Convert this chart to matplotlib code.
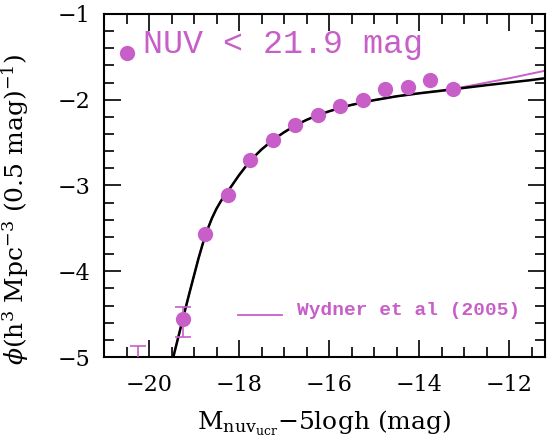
import matplotlib.pyplot as plt
from matplotlib.ticker import MultipleLocator

plt.rcParams['font.family'] = 'DejaVu Serif'
plt.rcParams['mathtext.fontset'] = 'dejavuserif'

# measured luminosity function points (0.5 mag bins)
mag = [-19.25, -18.75, -18.25, -17.75, -17.25, -16.75, -16.25,
       -15.75, -15.25, -14.75, -14.25, -13.75, -13.25]
logphi = [-4.56, -3.56, -3.11, -2.70, -2.47, -2.295, -2.18,
          -2.07, -2.00, -1.88, -1.855, -1.77, -1.87]
err_lo = [0.21, 0, 0, 0, 0, 0, 0, 0, 0, 0, 0, 0, 0]
err_hi = [0.14, 0, 0, 0, 0, 0, 0, 0, 0, 0, 0, 0, 0]

# bright bin below the plot, only its upper bar shows
lim_mag = [-20.25]
lim_phi = [-5.05]
lim_err = [0.18]

# fitted curve
fit_x = [-19.6, -19.46, -19.35, -19.25, -19.1, -19.0, -18.9, -18.75,
         -18.6, -18.5, -18.4, -18.25, -18.0, -17.75, -17.5, -17.25,
         -17.0, -16.75, -16.5, -16.25, -16.0, -15.75, -15.5, -15.0,
         -14.5, -14.0, -13.5, -13.0, -12.5, -12.0, -11.5, -11.14]
fit_y = [-5.30, -5.00, -4.77, -4.56, -4.25, -4.05, -3.85, -3.58,
         -3.38, -3.27, -3.18, -3.07, -2.88, -2.71, -2.58, -2.47,
         -2.38, -2.30, -2.235, -2.18, -2.135, -2.095, -2.06, -2.005,
         -1.96, -1.925, -1.895, -1.862, -1.83, -1.80, -1.77, -1.745]

# Wyder et al (2005)
wyd_x = [-19.6, -19.46, -19.35, -19.25, -19.1, -19.0, -18.9, -18.75,
         -18.6, -18.5, -18.4, -18.25, -18.0, -17.75, -17.5, -17.25,
         -17.0, -16.75, -16.5, -16.25, -16.0, -15.75, -15.5, -15.0,
         -14.5, -14.0, -13.5, -13.0, -12.5, -12.0, -11.5, -11.14]
wyd_y = [-5.30, -5.00, -4.77, -4.56, -4.25, -4.05, -3.85, -3.58,
         -3.38, -3.27, -3.18, -3.07, -2.88, -2.71, -2.58, -2.47,
         -2.38, -2.30, -2.235, -2.18, -2.135, -2.095, -2.06, -2.005,
         -1.96, -1.925, -1.89, -1.85, -1.80, -1.75, -1.695, -1.655]

col = '#c85ec8'

fig = plt.figure(figsize=(5.47, 4.44), dpi=100)
ax = fig.add_axes([104/547, 1 - 357/444, 441/547, 343/444])

ax.plot(wyd_x, wyd_y, color=col, lw=1.4, zorder=2)
ax.plot(fit_x, fit_y, color='black', lw=1.8, zorder=3)

ex = [m for m, e in zip(mag, err_lo) if e > 0]
ey = [p for p, e in zip(logphi, err_lo) if e > 0]
elo = [e for e in err_lo if e > 0]
ehi = [e for e in err_hi if e > 0]
ax.errorbar(ex, ey, yerr=[elo, ehi], fmt='none', ecolor=col, elinewidth=1.2,
            capsize=6, capthick=1.2, zorder=4)
ax.errorbar(lim_mag, lim_phi, yerr=lim_err, fmt='none', ecolor=col,
            elinewidth=1.2, capsize=6, capthick=1.2, zorder=4)
ax.plot(mag, logphi, 'o', color=col, markersize=11, mec='none', zorder=5)

# legend-style labels
ax.plot([-20.5], [-1.455], 'o', color=col, markersize=11, mec='none', clip_on=False)
ax.text(-20.13, -1.455, 'NUV < 21.9 mag', color=col, fontsize=24,
        family='Liberation Mono', va='baseline', ha='left')
ax.plot([-18.02, -17.04], [-4.51, -4.51], color=col, lw=1.3)
ax.text(-16.71, -4.51, 'Wydner et al (2005)', color=col, fontsize=14,
        family='Liberation Mono', fontweight='bold', va='baseline', ha='left')

ax.set_xlim(-21, -11.2)
ax.set_ylim(-5, -1)
ax.xaxis.set_major_locator(MultipleLocator(2))
ax.xaxis.set_minor_locator(MultipleLocator(0.5))
ax.yaxis.set_major_locator(MultipleLocator(1))
ax.yaxis.set_minor_locator(MultipleLocator(0.2))
ax.tick_params(which='both', direction='in', top=True, right=True, width=1.2,
               labelsize=16)
ax.tick_params(which='major', length=12)
ax.tick_params(axis='x', which='major', pad=12)
ax.tick_params(axis='y', which='major', pad=10)
ax.tick_params(which='minor', length=7)
for s in ax.spines.values():
    s.set_linewidth(1.5)

ax.set_xlabel(r'$\mathrm{M}_{\mathrm{nuv}_{\mathrm{ucr}}}$$-$5logh (mag)', fontsize=18)
ax.set_ylabel(r'$\phi$(h$^3$ Mpc$^{-3}$ (0.5 mag)$^{-1}$)', fontsize=18)
ax.xaxis.set_label_coords(0.5, -0.15)
ax.yaxis.set_label_coords(-0.165, 0.43)

fig.savefig('out.png', dpi=100)
